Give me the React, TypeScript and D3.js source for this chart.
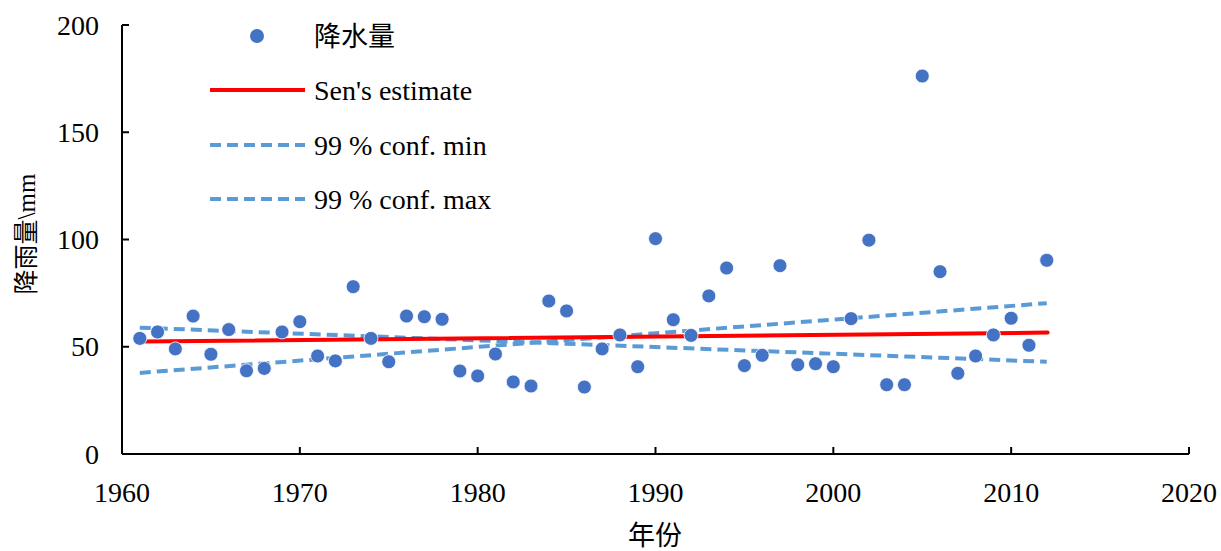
import React from "react";
import * as d3 from "d3";

const years: number[] = d3.range(1961, 2013);
const precipitation: number[] = [
  53.9, 56.9, 49.0, 64.3, 46.5, 58.0, 38.8, 39.9, 56.9, 61.7,
  45.7, 43.4, 78.0, 53.9, 43.0, 64.3, 64.0, 62.8, 38.7, 36.4,
  46.6, 33.6, 31.7, 71.3, 66.7, 31.2, 49.0, 55.5, 40.7, 100.4,
  62.6, 55.3, 73.7, 86.7, 41.2, 46.0, 87.8, 41.6, 42.1, 40.7,
  63.1, 99.7, 32.3, 32.3, 176.2, 85.0, 37.6, 45.7, 55.5, 63.3,
  50.7, 90.3,
];
const senYears: number[] = [1961, 2012.05];
const senValues: number[] = [52.4, 56.6];
const confMinYears: number[] = [1961, 2012];
const confMinValues: number[] = [58.9, 43.0];
const confMaxYears: number[] = [1961, 2012];
const confMaxValues: number[] = [37.8, 70.3];
const xTicks: number[] = [1960, 1970, 1980, 1990, 2000, 2010, 2020];
const yTicks: number[] = [0, 50, 100, 150, 200];
const legendLabels: string[] = ["降水量", "Sen's estimate", "99 % conf. min", "99 % conf. max"];

const W = 1221;
const H = 551;
const LATIN = "Liberation Serif, Tinos, DejaVu Serif, serif";
const CJK = "Liberation Serif, Noto Sans CJK SC, serif";
const DOT = "#4472C4";
const RED = "#FF0000";
const DASH = "#5B9BD5";

const latin = { fontFamily: LATIN, fontSize: 28 };
const cjk = { fontFamily: CJK, fontSize: 27 };

export default function App() {
  const x = d3.scaleLinear().domain([1960, 2020]).range([122, 1189]);
  const y = d3.scaleLinear().domain([0, 200]).range([454, 25]);
  const line = (xs: number[], ys: number[]) =>
    d3.line<number>().x((d, i) => x(xs[i])).y((d) => y(d))(ys) || "";

  const legendY = [36, 90, 145, 199];

  return (
    <svg
      width={W}
      height={H}
      style={{ position: "absolute", left: 0, top: 0, background: "#fff" }}
    >
      {/* data lines */}
      <path d={line(confMinYears, confMinValues)} fill="none" stroke={DASH} strokeWidth={4} strokeDasharray="11 6" />
      <path d={line(confMaxYears, confMaxValues)} fill="none" stroke={DASH} strokeWidth={4} strokeDasharray="11 6" />
      <path d={line(senYears, senValues)} fill="none" stroke={RED} strokeWidth={4} strokeLinecap="round" />
      {precipitation.map((v, i) => (
        <circle key={i} cx={x(years[i])} cy={y(v)} r={7} fill={DOT} stroke="#fff" strokeWidth={0.8} />
      ))}

      {/* axes */}
      <line x1={x(1960)} x2={x(1960)} y1={y(200)} y2={y(0)} stroke="#000" strokeWidth={2} />
      <line x1={x(1960)} x2={x(2020)} y1={y(0)} y2={y(0)} stroke="#000" strokeWidth={2} />
      {yTicks.map((t) => (
        <g key={"y" + t}>
          <line x1={x(1960)} x2={x(1960) + 7} y1={y(t)} y2={y(t)} stroke="#000" strokeWidth={2} />
          <text x={x(1960) - 23} y={y(t) + 9.5} textAnchor="end" style={latin} fill="#000">
            {t}
          </text>
        </g>
      ))}
      {xTicks.map((t) => (
        <g key={"x" + t}>
          <line x1={x(t)} x2={x(t)} y1={y(0)} y2={y(0) - 7} stroke="#000" strokeWidth={2} />
          <text x={x(t)} y={502} textAnchor="middle" style={latin} fill="#000">
            {t}
          </text>
        </g>
      ))}

      {/* axis titles */}
      <text x={655} y={545} textAnchor="middle" style={cjk} fill="#000">
        年份
      </text>
      <text
        transform={`translate(35,234) rotate(-90)`}
        textAnchor="middle"
        style={{ fontFamily: CJK, fontSize: 25 }}
        fill="#000"
      >
        降雨量\mm
      </text>

      {/* legend */}
      <circle cx={257} cy={legendY[0]} r={7} fill={DOT} />
      <text x={314} y={legendY[0] + 9.5} style={cjk} fill="#000">{legendLabels[0]}</text>
      <line x1={210} x2={305} y1={legendY[1]} y2={legendY[1]} stroke={RED} strokeWidth={4} />
      <text x={314} y={legendY[1] + 9.5} style={latin} fill="#000">{legendLabels[1]}</text>
      <line x1={210} x2={305} y1={legendY[2]} y2={legendY[2]} stroke={DASH} strokeWidth={4} strokeDasharray="11 6" />
      <text x={314} y={legendY[2] + 9.5} style={latin} fill="#000">{legendLabels[2]}</text>
      <line x1={210} x2={305} y1={legendY[3]} y2={legendY[3]} stroke={DASH} strokeWidth={4} strokeDasharray="11 6" />
      <text x={314} y={legendY[3] + 9.5} style={latin} fill="#000">{legendLabels[3]}</text>
    </svg>
  );
}
